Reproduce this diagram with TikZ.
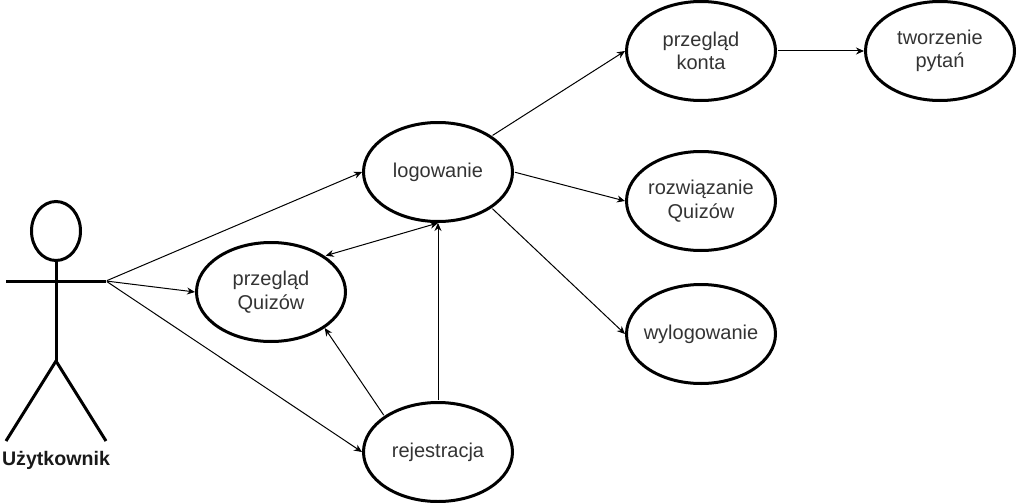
\documentclass[tikz,border=0pt]{standalone}
\usepackage{fontspec}
\setmainfont{Liberation Sans}
\usetikzlibrary{arrows.meta,shapes.geometric}
\begin{document}
\begin{tikzpicture}[x=1pt,y=-1pt,
    usecase/.style={ellipse, draw=black, line width=3pt, minimum width=149pt, minimum height=99pt, inner sep=-26pt, align=center, font=\fontsize{20pt}{23.5pt}\selectfont, text=black!80},
    limb/.style={draw=black, line width=3pt},
    link/.style={-{Stealth[length=8pt,width=7pt]}, line width=1pt, shorten <=1pt}]
    \useasboundingbox (0,0) rectangle (1017,503);
    %Nodes
    \node[usecase] (login)   at (438,172) {logowanie};
    \node[usecase] (browse)  at (271,292) {przegląd\\Quizów};
    \node[usecase] (signup)  at (438,452) {rejestracja};
    \node[usecase] (account) at (701,51)  {przegląd\\konta};
    \node[usecase] (create)  at (940,51)  {tworzenie\\pytań};
    \node[usecase] (solve)   at (701,201) {rozwiązanie\\Quizów};
    \node[usecase] (logout)  at (701,334) {wylogowanie};
    \node[ellipse, draw=black, line width=3pt, minimum width=49pt, minimum height=59pt, inner sep=0pt] (head) at (56,231) {};
    \node[font=\bfseries\fontsize{19.6pt}{23pt}\selectfont, text=black!90] (actor) at (56,460) {Użytkownik};
    \coordinate (armL) at (6,281);
    \coordinate (armR) at (106,281);
    \coordinate (hip) at (56,361);
    \coordinate (legL) at (6,441);
    \coordinate (legR) at (106,441);

    %Actor
    \draw[limb] (armL) -- (armR);
    \draw[limb] (head.south) -- (hip);
    \draw[limb] (legL) -- (hip) -- (legR);

    %Lines
    \draw[link] (armR) -- (login.west);
    \draw[link] (armR) -- (browse.west);
    \draw[link] (armR) -- (signup.west);
    \draw[link] (signup.north) -- (login.south);
    \draw[link] (signup.north west) -- (browse.south east);
    \draw[link, {Stealth[length=8pt,width=7pt]}-{Stealth[length=8pt,width=7pt]}] (browse.north east) -- (login.south);
    \draw[link] (login.north east) -- (account.west);
    \draw[link] (login.east) -- (solve.west);
    \draw[link] (login.south east) -- (logout.west);
    \draw[link] (account.east) -- (create.west);
\end{tikzpicture}
\end{document}
